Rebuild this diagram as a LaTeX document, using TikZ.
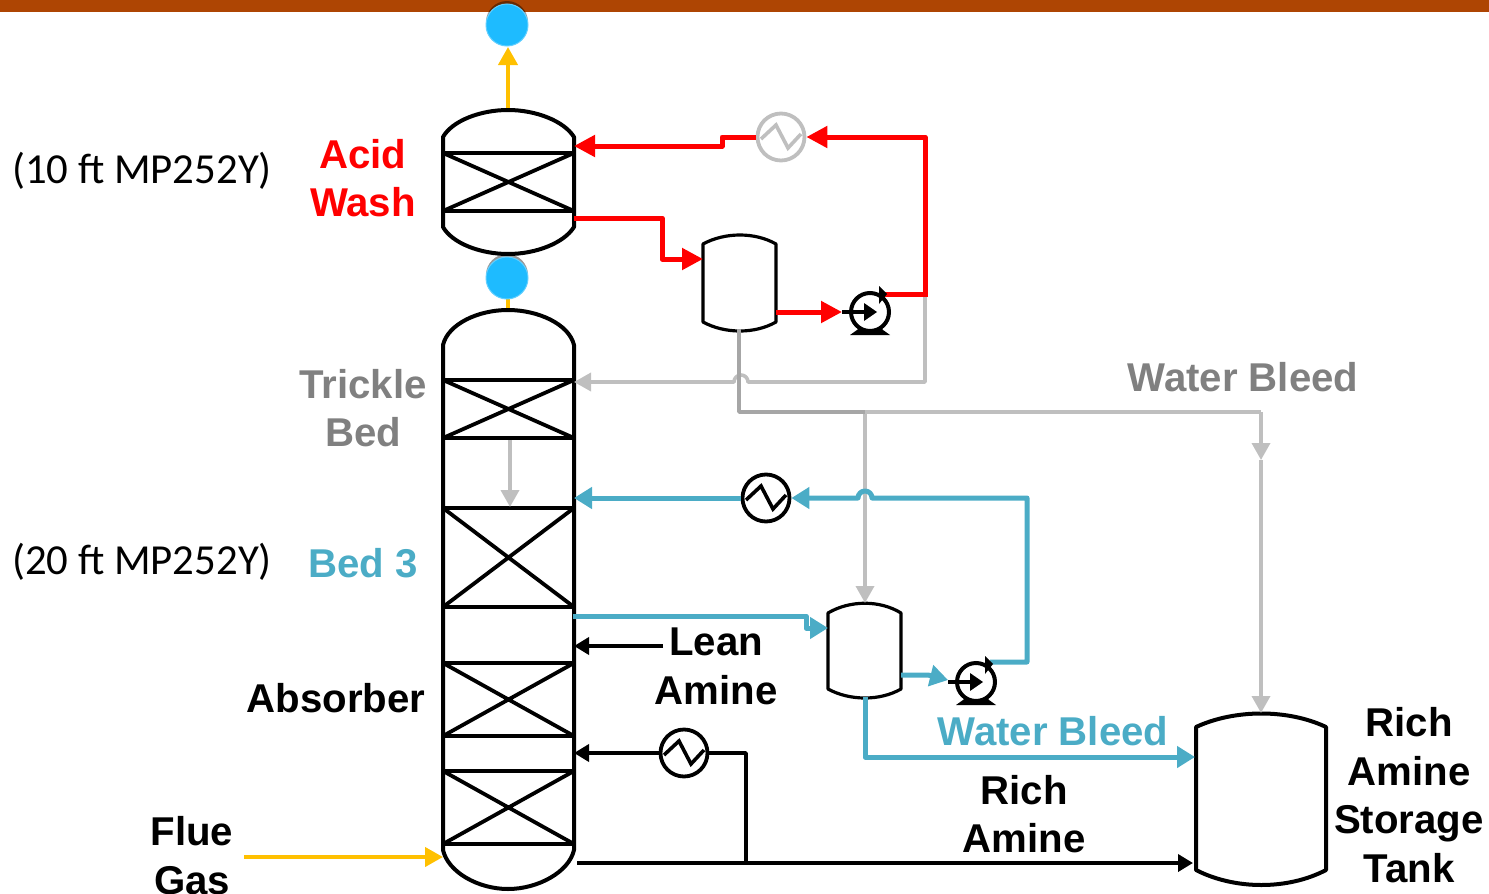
\documentclass[tikz,border=0pt]{standalone}
\usepackage{fontspec}
\setmainfont{Liberation Sans}
\newfontfamily\calfont{Carlito}
\usetikzlibrary{arrows.meta,shadows,calc}
\definecolor{barc}{HTML}{AE4503}
\definecolor{ored}{HTML}{FF0000}
\definecolor{gr}{HTML}{BFBFBF}
\definecolor{grd}{HTML}{A6A6A6}
\definecolor{teal1}{HTML}{4BACC6}
\definecolor{gold}{HTML}{FFC000}
\definecolor{blue1}{HTML}{1EBBFF}
\definecolor{lbl}{HTML}{808080}
\tikzset{
 x=1pt,y=-1pt,
 vessel/.style={draw=black,line width=4pt,fill=white,line join=round},
 smallv/.style={draw=black,line width=3.2pt,fill=white,line join=round},
 bedline/.style={draw=black,line width=3.8pt},
 redp/.style={draw=ored,line width=5pt,line join=round,-{Triangle[length=21pt,width=21pt]}},
 redn/.style={draw=ored,line width=5pt},
 grayp/.style={draw=gr,line width=3.6pt,line join=round,-{Triangle[length=17pt,width=18pt]}},
 grayn/.style={draw=gr,line width=3.6pt,line join=round},
 grayd/.style={draw=grd,line width=3.6pt,line join=round},
 tealp/.style={draw=teal1,line width=5pt,line join=round,-{Triangle[length=18pt,width=21pt]}},
 blackp/.style={draw=black,line width=3.6pt,-{Triangle[length=15pt,width=17pt]}},
 blackn/.style={draw=black,line width=3.6pt,line join=round},
 goldp/.style={draw=gold,line width=4pt,-{Triangle[length=18pt,width=19pt]}},
 hx/.style={circle,draw=black,fill=white,line width=3.8pt,minimum size=47pt,inner sep=0pt},
 hxg/.style={circle,draw=gr,fill=white,line width=3.8pt,minimum size=47pt,inner sep=0pt},
 ball/.style={circle,fill=blue1,draw=blue1!70!white,line width=1pt,minimum size=42pt,inner sep=0pt,drop shadow={shadow xshift=0pt,shadow yshift=3pt,opacity=.4,fill=black}},
 lab/.style={font=\fontsize{40.2}{48.5}\selectfont\bfseries,align=center,inner sep=0pt},
 note/.style={font=\calfont\fontsize{42.8}{48}\selectfont,inner sep=0pt},
 pumpb/.style={circle,draw=black,fill=white,line width=4pt,minimum size=38pt,inner sep=0pt},
}
\newcommand{\wiggle}[2]{\draw[draw=#2,line width=3.6pt,line join=miter] ($(#1)+(-20,2)$) -- ($(#1)+(-5,-12)$) -- ($(#1)+(7,11)$) -- ($(#1)+(20,-3)$);}
\newcommand{\pumpsym}[1]{%
 \fill[black] ($(#1)+(-20,23)$) -- ($(#1)+(-13,18)$) -- ($(#1)+(-9,14)$) -- ($(#1)+(-5,18)$) -- ($(#1)+(5,18)$) -- ($(#1)+(9,14)$) -- ($(#1)+(13,18)$) -- ($(#1)+(20,23)$) -- cycle;
 \node[pumpb] at (#1) {};
 \fill[black] ($(#1)+(9,-26)$) -- ($(#1)+(17,-18)$) -- ($(#1)+(9,-8)$) -- cycle;
 \draw[black,line width=3.6pt] ($(#1)+(-28,0)$) -- ($(#1)+(-2,0)$);
 \fill[black] ($(#1)+(-6,-9)$) -- ($(#1)+(7,0)$) -- ($(#1)+(-6,9)$) -- cycle;
}
\begin{document}
\begin{tikzpicture}
\useasboundingbox (0,0) rectangle (1489,894);
\fill[barc] (0,0) rectangle (1489,12);
% ports
\coordinate (awtop) at (508,110);
\coordinate (awin) at (574,146);
\coordinate (awout) at (574,218);
\coordinate (abtop) at (508,310);
\coordinate (d1in) at (703,259);
\coordinate (d1out) at (776,312);
\coordinate (d1bot) at (739,329);
\coordinate (tbin) at (574,382);
\coordinate (b3in) at (574,498);
\coordinate (b3out) at (573,616);
\coordinate (d2in) at (828,628);
\coordinate (d2top) at (865,603);
\coordinate (d2out) at (901,675);
\coordinate (d2bot) at (865,697);
\coordinate (lean) at (574,646);
\coordinate (leanend) at (663,646);
\coordinate (icin) at (574,753);
\coordinate (richout) at (577,863);
\coordinate (tankin) at (1195,757);
\coordinate (tankr) at (1193,863);
\coordinate (tanktop) at (1261,713);
\coordinate (fgs) at (244,857);
\coordinate (fge) at (443,857);
\coordinate (tbs) at (510,440);
\coordinate (tbe) at (510,507);
% gold lines behind vessels
\draw[goldp] (awtop) -- (508,47);
\draw[draw=gold,line width=4pt] (508,290) -- (abtop);
\draw[goldp] (fgs) -- (fge);
% acid wash column
\draw[vessel] (443,153) -- (443,137) .. controls (452,121) and (480,110) .. (508,110) .. controls (536,110) and (564,121) .. (574,137) -- (574,153)
 -- (574,227) .. controls (564,243) and (536,254) .. (508,254) .. controls (480,254) and (452,243) .. (443,227) -- cycle;
\draw[bedline] (443,153) -- (574,153) (443,211) -- (574,211) (443,153) -- (574,211) (443,211) -- (574,153);
% absorber
\draw[vessel] (443,380) -- (443,345) .. controls (448,324) and (478,310) .. (508,310) .. controls (538,310) and (569,324) .. (574,345) -- (574,850)
 .. controls (569,872) and (538,889) .. (508,889) .. controls (478,889) and (448,872) .. (443,850) -- cycle;
\draw[bedline] (443,380) -- (574,380) (443,438) -- (574,438) (443,380) -- (574,438) (443,438) -- (574,380);
\draw[bedline] (443,508) -- (574,508) (443,607) -- (574,607) (443,508) -- (574,607) (443,607) -- (574,508);
\draw[bedline] (443,663) -- (574,663) (443,736) -- (574,736) (443,663) -- (574,736) (443,736) -- (574,663);
\draw[bedline] (443,771) -- (574,771) (443,844) -- (574,844) (443,771) -- (574,844) (443,844) -- (574,771);
% small vessels
\draw[smallv] (703,244) .. controls (725,232) and (755,232) .. (776,244) -- (776,322) .. controls (755,334) and (725,334) .. (703,322) -- cycle;
\draw[smallv] (828,613) .. controls (850,600) and (880,600) .. (901,613) -- (901,689) .. controls (880,701) and (850,701) .. (828,689) -- cycle;
\draw[vessel] (1196,727) .. controls (1235,709) and (1288,709) .. (1326,727) -- (1326,870) .. controls (1288,890) and (1235,890) .. (1196,870) -- cycle;
% equipment
\node[hxg] (hx1) at (781,137) {};
\wiggle{hx1}{gr}
\node[hx] (hx2) at (766,498) {};
\wiggle{hx2}{black}
\node[hx] (hx3) at (684,753) {};
\wiggle{hx3}{black}
\coordinate (p1) at (870,312);
\coordinate (p2) at (976,682);
\coordinate (p1in) at (842,312);
\coordinate (p2out) at (990,662);
\coordinate (p2in) at (948,680);
% gray lines
\draw[grayn] (925,294) -- (925,382) -- (748,382) arc[start angle=0,end angle=-180,radius=7] -- (730,382);
\draw[grayp] (730,382) -- (tbin);
\draw[grayn] (865,412) -- (1261,412);
\draw[grayp] (865,412) -- (d2top);
\draw[grayd] (d1bot) -- (739,412) -- (865,412);
\draw[grayp] (1261,412) -- (1261,460);
\draw[grayp] (1261,460) -- (tanktop);
\draw[grayp] (tbs) -- (tbe);
% red lines
\draw[redp] (hx1.west) -- (722,137) -- (722,146) -- (awin);
\draw[redp] (925,296) -- (925,137) -- (hx1.east);
\draw[redn] (884,294) -- (927.5,294);
\draw[redp] (awout) -- (662,218) -- (662,259) -- (d1in);
\draw[redp] (d1out) -- (p1in);
% teal lines
\draw[tealp] (hx2.west) -- (b3in);
\draw[tealp] (p2out) -- (1027,662) -- (1027,498) -- (872,498) arc[start angle=0,end angle=-180,radius=7] -- (854,498) -- (hx2.east);
\draw[tealp] (b3out) -- (806,616) -- (806,628) -- (d2in);
\draw[tealp] (d2out) -- (928,675) -- (p2in);
\draw[tealp] (d2bot) -- (865,757) -- (tankin);
% black lines
\draw[blackp] (leanend) -- (lean);
\draw[blackp] (hx3.west) -- (icin);
\draw[blackn] (hx3.east) -- (746,753) -- (746,863);
\draw[blackp] (richout) -- (tankr);
% pumps
\pumpsym{p1}
\pumpsym{p2}
% balls
\node[ball] (bl1) at (507,25) {};
\node[ball] (bl2) at (507,278) {};
% labels
\node[lab,text=ored] (t1) at (363,178) {Acid\\Wash};
\node[lab,text=lbl] (t2) at (363,408) {Trickle\\Bed};
\node[lab,text=teal1] (t3) at (363,563) {Bed 3};
\node[lab] (t4) at (336,698) {Absorber};
\node[lab] (t5) at (192,855.5) {Flue\\Gas};
\node[lab] (t6) at (716,666.5) {Lean\\Amine};
\node[lab] (t7) at (1024,814) {Rich\\Amine};
\node[lab,text=teal1] (t8) at (1053,731) {Water Bleed};
\node[lab,text=lbl] (t9) at (1243,377) {Water Bleed};
\node[lab] (t10) at (1409,795) {Rich\\Amine\\Storage\\Tank};
\node[note] (n1) at (142,171) {(10 ft MP252Y)};
\node[note] (n2) at (142,562) {(20 ft MP252Y)};
\end{tikzpicture}
\end{document}
